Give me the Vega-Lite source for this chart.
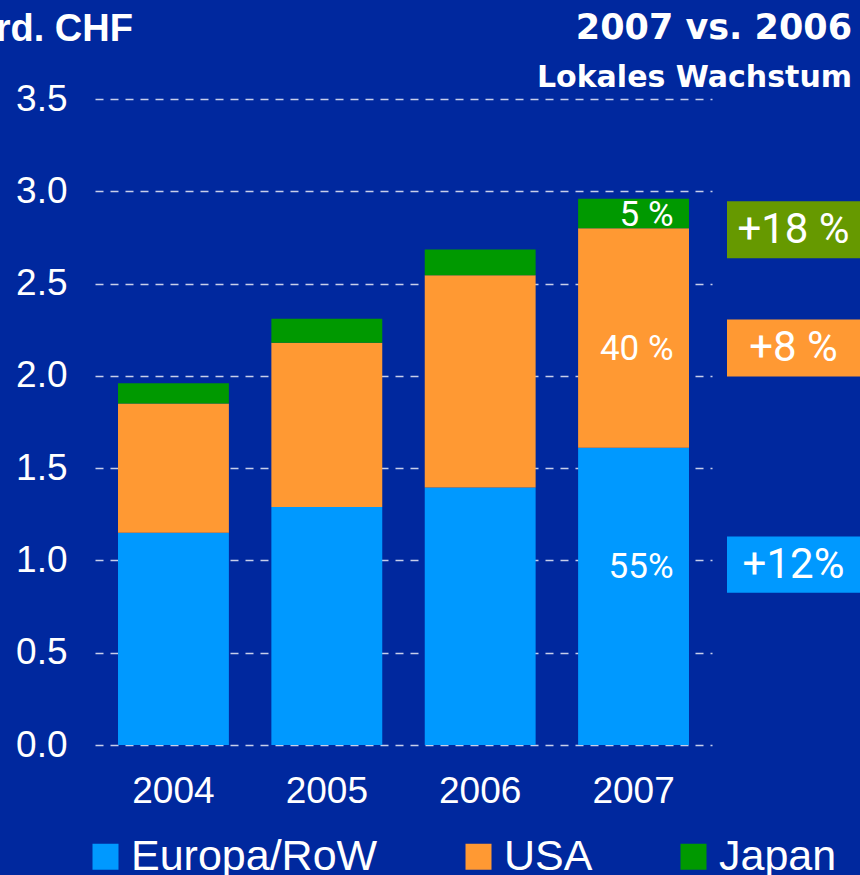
{
  "$schema": "https://vega.github.io/schema/vega-lite/v6.json",
  "background": "#00289E",
  "padding": {"left": -36, "top": 11, "right": 0, "bottom": 0},
  "config": {
    "view": {"stroke": null},
    "axis": {"domain": false, "ticks": false, "labelColor": "white", "labelFont": "Liberation Sans", "labelFontSize": 37}
  },
  "datasets": {
    "umsatz": [
      {"Jahr": "2004", "Region": "Europa/RoW", "Rang": 1, "Wert": 1.15},
      {"Jahr": "2004", "Region": "USA", "Rang": 2, "Wert": 0.70},
      {"Jahr": "2004", "Region": "Japan", "Rang": 3, "Wert": 0.11},
      {"Jahr": "2005", "Region": "Europa/RoW", "Rang": 1, "Wert": 1.29},
      {"Jahr": "2005", "Region": "USA", "Rang": 2, "Wert": 0.89},
      {"Jahr": "2005", "Region": "Japan", "Rang": 3, "Wert": 0.13},
      {"Jahr": "2006", "Region": "Europa/RoW", "Rang": 1, "Wert": 1.395},
      {"Jahr": "2006", "Region": "USA", "Rang": 2, "Wert": 1.15},
      {"Jahr": "2006", "Region": "Japan", "Rang": 3, "Wert": 0.14},
      {"Jahr": "2007", "Region": "Europa/RoW", "Rang": 1, "Wert": 1.61},
      {"Jahr": "2007", "Region": "USA", "Rang": 2, "Wert": 1.19},
      {"Jahr": "2007", "Region": "Japan", "Rang": 3, "Wert": 0.16}
    ],
    "anteile": [
      {"Jahr": "2007", "Region": "Japan", "Anteil": "5 %", "Position": 2.87},
      {"Jahr": "2007", "Region": "USA", "Anteil": "40 %", "Position": 2.143},
      {"Jahr": "2007", "Region": "Europa/RoW", "Anteil": "55%", "Position": 0.967}
    ],
    "wachstum": [
      {"Region": "Japan", "Wachstum": "+18 %", "Von": 2.637, "Bis": 2.946, "Mitte": 2.79},
      {"Region": "USA", "Wachstum": "+8 %", "Von": 1.997, "Bis": 2.306, "Mitte": 2.15},
      {"Region": "Europa/RoW", "Wachstum": "+12%", "Von": 0.825, "Bis": 1.129, "Mitte": 0.977}
    ]
  },
  "spacing": 15,
  "bounds": "flush",
  "resolve": {"scale": {"color": "independent"}, "legend": {"color": "independent"}},
  "hconcat": [
    {
      "width": 617,
      "height": 646,
      "title": {"text": "Mrd. CHF", "anchor": "start", "frame": "group", "font": "Liberation Sans", "fontSize": 38, "fontWeight": "bold", "color": "white", "dx": -131, "offset": 1, "baseline": "alphabetic"},
      "layer": [
        {
          "data": {"name": "umsatz"},
          "mark": {"type": "bar"},
          "encoding": {
            "x": {"field": "Jahr", "type": "ordinal", "scale": {"paddingInner": 0.277, "paddingOuter": 0.15}, "axis": {"title": null, "labelAngle": 0, "labelPadding": 28, "grid": false}},
            "y": {"field": "Wert", "type": "quantitative", "stack": "zero", "scale": {"domain": [0, 3.5], "nice": false}, "axis": {"title": null, "values": [0, 0.5, 1, 1.5, 2, 2.5, 3, 3.5], "format": ".1f", "labelPadding": 28, "grid": true, "gridDash": [8, 7], "gridColor": "#C8CEEA", "gridWidth": 1.5}},
            "order": {"field": "Rang", "type": "quantitative", "sort": "ascending"},
            "color": {"field": "Region", "type": "nominal", "scale": {"domain": ["Europa/RoW", "USA", "Japan"], "range": ["#0099FF", "#FF9933", "#009900"]},
              "legend": {"title": null, "orient": "none", "legendX": -11, "legendY": 736, "direction": "horizontal", "symbolType": "square", "symbolSize": 676, "symbolStrokeWidth": 0, "symbolOpacity": 1, "labelFont": "Liberation Sans", "labelFontSize": 43, "labelColor": "white", "labelOffset": 4, "labelLimit": 400, "columnPadding": 79, "padding": 0}}
          }
        },
        {
          "data": {"name": "anteile"},
          "mark": {"type": "text", "align": "right", "baseline": "middle", "dx": 40, "font": "Roboto", "fontSize": 35, "color": "white"},
          "encoding": {
            "x": {"field": "Jahr", "type": "ordinal"},
            "y": {"field": "Position", "type": "quantitative"},
            "text": {"field": "Anteil"}
          }
        }
      ]
    },
    {
      "width": 133,
      "height": 646,
      "title": {"text": "2007 vs. 2006", "subtitle": "Lokales Wachstum", "anchor": "end", "frame": "group", "font": "DejaVu Sans", "fontSize": 35, "fontWeight": "bold", "color": "white", "subtitleFont": "DejaVu Sans", "subtitleFontSize": 30, "subtitleFontWeight": "bold", "subtitleColor": "white", "subtitlePadding": 17, "dx": -8, "offset": 6},
      "data": {"name": "wachstum"},
      "layer": [
        {
          "mark": {"type": "rect"},
          "encoding": {
            "x": {"value": 0},
            "x2": {"value": "width"},
            "y": {"field": "Von", "type": "quantitative", "scale": {"domain": [0, 3.5], "nice": false}, "axis": null},
            "y2": {"field": "Bis"},
            "color": {"field": "Region", "type": "nominal", "scale": {"domain": ["Japan", "USA", "Europa/RoW"], "range": ["#669900", "#FF9933", "#0099FF"]}, "legend": null}
          }
        },
        {
          "mark": {"type": "text", "align": "center", "baseline": "middle", "font": "Roboto", "fontSize": 42, "color": "white"},
          "encoding": {
            "y": {"field": "Mitte", "type": "quantitative", "scale": {"domain": [0, 3.5], "nice": false}},
            "text": {"field": "Wachstum"}
          }
        }
      ]
    }
  ]
}
